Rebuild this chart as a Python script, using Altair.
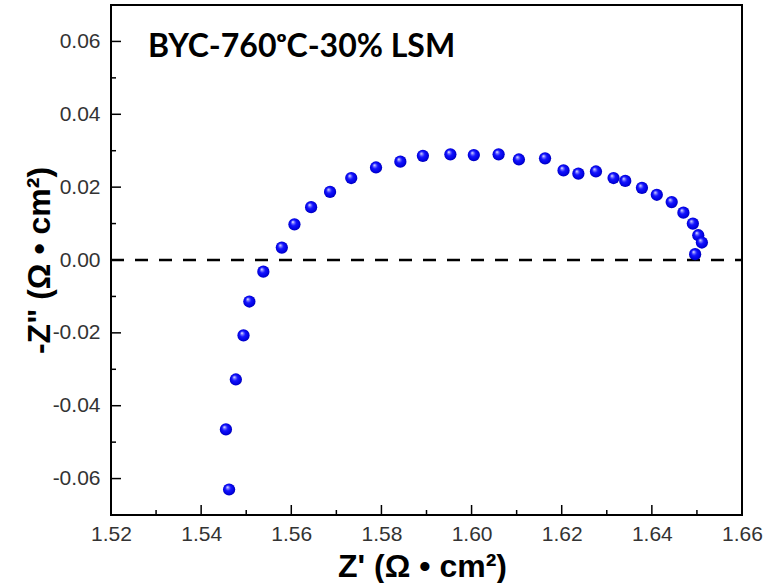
import altair as alt
import pandas as pd

# Impedance data (Z' and -Z'' in ohm*cm^2)
z_real = [1.5462, 1.5455, 1.5477, 1.5494, 1.5507, 1.5538, 1.5579, 1.5607,
          1.5644, 1.5686, 1.5733, 1.5788, 1.5842, 1.5892, 1.5953, 1.6005,
          1.6060, 1.6105, 1.6163, 1.6204, 1.6237, 1.6276, 1.6315, 1.6341,
          1.6378, 1.6411, 1.6444, 1.6470, 1.6491, 1.6503, 1.6511, 1.6496]
z_imag = [-0.0630, -0.0465, -0.0328, -0.0207, -0.0114, -0.0032, 0.0034, 0.0098,
          0.0145, 0.0187, 0.0225, 0.0254, 0.0270, 0.0286, 0.0290, 0.0288,
          0.0290, 0.0276, 0.0279, 0.0246, 0.0237, 0.0243, 0.0225, 0.0217,
          0.0198, 0.0179, 0.0159, 0.0130, 0.0100, 0.0068, 0.0048, 0.0016]

x_major = [1.52, 1.54, 1.56, 1.58, 1.60, 1.62, 1.64, 1.66]
x_minor = [1.53, 1.55, 1.57, 1.59, 1.61, 1.63, 1.65]
y_major = [-0.06, -0.04, -0.02, 0.00, 0.02, 0.04, 0.06]
y_minor = [-0.05, -0.03, -0.01, 0.01, 0.03, 0.05]
zero_line = [0.0]

label_text = "BYC-760\u1d52C-30% LSM"

W, H = 631, 510

xscale = alt.Scale(domain=[1.52, 1.66], nice=False, zero=False)
yscale = alt.Scale(domain=[-0.07, 0.07], nice=False, zero=False)

df = pd.DataFrame({"zr": z_real, "zi": z_imag})

sphere = alt.RadialGradient(
    gradient="radial",
    x1=0.36, y1=0.30, r1=0.0,
    x2=0.5, y2=0.5, r2=0.55,
    stops=[
        alt.GradientStop(color="#ffffff", offset=0.0),
        alt.GradientStop(color="#7f7fff", offset=0.18),
        alt.GradientStop(color="#1414ff", offset=0.42),
        alt.GradientStop(color="#0000e0", offset=0.8),
        alt.GradientStop(color="#00009a", offset=1.0),
    ],
)

label_expr = "replace(format(datum.value, '.2f'), '\u2212', '-')"

x_axis = alt.Axis(values=x_major, labelExpr=label_expr, ticks=False, domain=False,
                  grid=False, labelFont="Liberation Sans", labelFontSize=21,
                  labelColor="#333333", labelPadding=8, labelFlush=False,
                  title="Z' (\u03a9 \u2022 cm\u00b2)", titleFont="Liberation Sans",
                  titleFontSize=32, titleFontWeight="bold", titleColor="black",
                  titleX=311, titleY=51, titleBaseline="middle", titleAlign="center")
y_axis = alt.Axis(values=y_major, labelExpr=label_expr, ticks=False, domain=False,
                  grid=False, labelFont="Liberation Sans", labelFontSize=21,
                  labelColor="#333333", labelPadding=11, labelFlush=False,
                  title="-Z\" (\u03a9 \u2022 cm\u00b2)", titleFont="Liberation Sans",
                  titleFontSize=32, titleFontWeight="bold", titleColor="black",
                  titleX=-72, titleY=H / 2, titleBaseline="middle", titleAlign="center",
                  titleAngle=270)

points = alt.Chart(df).mark_point(
    filled=True, fill=sphere, size=150, opacity=1, strokeWidth=0
).encode(
    x=alt.X("zr:Q", scale=xscale, axis=x_axis),
    y=alt.Y("zi:Q", scale=yscale, axis=y_axis),
)

dash = alt.Chart(pd.DataFrame({"v": zero_line})).mark_rule(
    color="black", strokeWidth=2.5, strokeDash=[13, 11]
).encode(y=alt.Y("v:Q", scale=yscale, axis=y_axis), x=alt.value(0), x2=alt.value(W))

xmaj = alt.Chart(pd.DataFrame({"v": x_major})).mark_rule(color="black", strokeWidth=1.5).encode(
    x=alt.X("v:Q", scale=xscale, axis=x_axis), y=alt.value(H), y2=alt.value(H - 10))
xmin = alt.Chart(pd.DataFrame({"v": x_minor})).mark_rule(color="black", strokeWidth=1.5).encode(
    x=alt.X("v:Q", scale=xscale, axis=x_axis), y=alt.value(H), y2=alt.value(H - 5))
ymaj = alt.Chart(pd.DataFrame({"v": y_major})).mark_rule(color="black", strokeWidth=1.5).encode(
    y=alt.Y("v:Q", scale=yscale, axis=y_axis), x=alt.value(0), x2=alt.value(10))
ymin = alt.Chart(pd.DataFrame({"v": y_minor})).mark_rule(color="black", strokeWidth=1.5).encode(
    y=alt.Y("v:Q", scale=yscale, axis=y_axis), x=alt.value(0), x2=alt.value(5))

title = alt.Chart(pd.DataFrame({"t": [label_text]})).mark_text(
    font="Lato", fontSize=32, fontWeight="bold", color="black", align="left", baseline="alphabetic"
).encode(text="t:N", x=alt.value(37), y=alt.value(52))

chart = alt.layer(dash, xmaj, xmin, ymaj, ymin, points, title).properties(
    width=W, height=H,
    padding={"left": 111, "top": 5, "right": 27, "bottom": 68},
    autosize=alt.AutoSizeParams(type="none"),
).configure_view(stroke="black", strokeWidth=2)

chart.save("out.html", embed_options={"renderer": "svg", "actions": False})
